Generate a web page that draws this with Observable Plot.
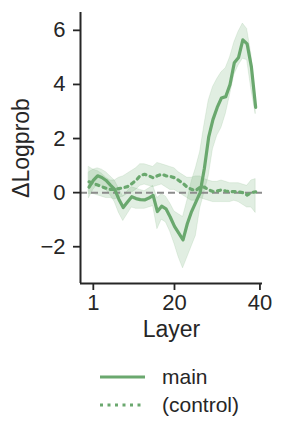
<!DOCTYPE html>
<html>
<head>
<meta charset="utf-8">
<script src="https://cdn.jsdelivr.net/npm/d3@7"></script>
<script src="https://cdn.jsdelivr.net/npm/@observablehq/plot@0.6"></script>
<style>
  html, body { margin: 0; padding: 0; background: #fff; }
  body { width: 281px; height: 438px; overflow: hidden; font-family: "Liberation Sans", Arial, sans-serif; color: #262626; }
  #legend { position: absolute; left: 100px; top: 363px; font-size: 21px; }
  .row { display: flex; align-items: center; height: 28px; }
  .row svg { margin-right: 17px; }
</style>
</head>
<body>
<div id="chart"></div>
<div id="legend"></div>
<script>
const layers = [0,1,2,3,4,5,6,7,8,9,10,11,12,13,14,15,16,17,18,19,20,21,22,23,24,25,26,27,28,29,30,31,32,33,34,35,36,37,38,39];
const mainMean = [0.2,0.45,0.62,0.56,0.45,0.28,0.12,-0.25,-0.55,-0.35,-0.15,-0.22,-0.26,-0.27,-0.2,-0.1,-0.7,-0.5,-0.6,-0.9,-1.25,-1.5,-1.75,-1.15,-0.7,-0.35,0.0,0.9,2.05,2.7,3.15,3.5,3.55,4.0,4.8,5.0,5.65,5.5,4.65,3.15];
const mainLow  = [-0.2,0.1,0.3,0.25,0.1,-0.1,-0.35,-0.75,-1.05,-0.8,-0.55,-0.6,-0.6,-0.6,-0.55,-0.5,-1.35,-1.0,-1.1,-1.45,-1.9,-2.4,-2.8,-2.4,-2.0,-1.6,-0.6,0.0,0.6,1.6,2.1,2.4,2.9,3.6,4.35,4.7,4.95,4.9,3.8,2.9];
const mainHigh = [0.75,0.85,0.9,0.85,0.75,0.6,0.45,0.15,-0.15,0.05,0.2,0.15,0.1,0.05,0.15,0.25,-0.2,-0.05,-0.15,-0.4,-0.7,-0.8,-0.9,-0.3,0.4,0.9,1.5,2.5,3.4,3.9,4.2,4.45,4.6,5.0,5.55,5.95,6.25,6.05,5.1,3.4];
const ctrlMean = [0.4,0.34,0.28,0.22,0.16,0.12,0.12,0.15,0.18,0.22,0.33,0.45,0.63,0.68,0.62,0.55,0.62,0.68,0.62,0.6,0.55,0.45,0.34,0.2,0.12,0.08,0.2,0.2,0.1,0.04,0.06,0.1,0.06,0.03,0.04,0.03,0.0,-0.09,0.0,0.03];
const ctrlLow  = [-0.05,-0.05,-0.1,-0.15,-0.2,-0.2,-0.25,-0.2,-0.15,-0.05,0.0,0.1,0.25,0.3,0.25,0.2,0.25,0.3,0.2,0.1,0.1,0.0,-0.1,-0.2,-0.3,-0.3,-0.2,-0.25,-0.3,-0.35,-0.35,-0.35,-0.35,-0.35,-0.3,-0.35,-0.45,-0.55,-0.55,-0.75];
const ctrlHigh = [0.95,0.85,0.8,0.7,0.55,0.45,0.45,0.55,0.6,0.7,0.8,0.9,1.05,1.05,1.0,0.95,1.1,1.05,1.0,0.95,0.9,0.75,0.65,0.55,0.55,0.6,0.6,0.5,0.45,0.4,0.4,0.45,0.4,0.35,0.35,0.35,0.3,0.25,0.45,0.5];
const xTicks = [1, 20, 40];
const yTicks = [-2, 0, 2, 4, 6];
const seriesNames = ["main", "(control)"];

const green = "#6aa86e";
const ink = "#262626";

const mainData = layers.map((l, i) => ({layer: l, mean: mainMean[i], lo: mainLow[i], hi: mainHigh[i]}));
const ctrlData = layers.map((l, i) => ({layer: l, mean: ctrlMean[i], lo: ctrlLow[i], hi: ctrlHigh[i]}));

const xDomain = [-2, 40.6];
const yDomain = [-3.36, 6.66];

const chart = Plot.plot({
  width: 281,
  height: 350,
  marginLeft: 80,
  marginRight: 19,
  marginTop: 12,
  marginBottom: 67,
  style: {fontFamily: '"Liberation Sans", Arial, sans-serif', color: ink, background: "#fff"},
  x: {domain: xDomain},
  y: {domain: yDomain},
  marks: [
    Plot.areaY(ctrlData, {x: "layer", y1: "lo", y2: "hi", fill: green, fillOpacity: 0.2, stroke: green, strokeOpacity: 0.15, strokeWidth: 1}),
    Plot.areaY(mainData, {x: "layer", y1: "lo", y2: "hi", fill: green, fillOpacity: 0.2, stroke: green, strokeOpacity: 0.15, strokeWidth: 1}),
    Plot.ruleY([0], {stroke: "#8c8c8c", strokeWidth: 2, strokeDasharray: "7,4"}),
    Plot.lineY(ctrlData, {x: "layer", y: "mean", stroke: green, strokeWidth: 3.2, strokeDasharray: "3,4.5"}),
    Plot.lineY(mainData, {x: "layer", y: "mean", stroke: green, strokeWidth: 3.2, strokeLinejoin: "round"}),
    Plot.ruleX([xDomain[0]], {stroke: ink, strokeWidth: 2}),
    Plot.ruleY([yDomain[0]], {stroke: ink, strokeWidth: 2}),
    Plot.axisY({ticks: yTicks, tickSize: 7, tickPadding: 8, fontSize: 22, strokeWidth: 1.8, stroke: ink, label: null}),
    Plot.axisX({ticks: xTicks, tickSize: 7, tickPadding: 4, fontSize: 22, strokeWidth: 1.8, stroke: ink, label: null}),
    Plot.text(["Layer"], {text: d => d, frameAnchor: "bottom", dy: 53, fontSize: 23, fill: ink}),
    Plot.text(["ΔLogprob"], {text: d => d, frameAnchor: "left", textAnchor: "middle", rotate: -90, dx: -59, fontSize: 23, fill: ink})
  ]
});
document.getElementById("chart").appendChild(chart);

const legend = document.getElementById("legend");
const dashes = [null, "3,4.5"];
seriesNames.forEach((name, i) => {
  const row = document.createElement("div");
  row.className = "row";
  const svg = d3.create("svg").attr("width", 45).attr("height", 10);
  svg.append("line").attr("x1", 0).attr("x2", 45).attr("y1", 5).attr("y2", 5)
    .attr("stroke", green).attr("stroke-width", 3)
    .attr("stroke-dasharray", dashes[i]);
  row.appendChild(svg.node());
  const span = document.createElement("span");
  span.textContent = name;
  row.appendChild(span);
  legend.appendChild(row);
});
</script>
</body>
</html>
